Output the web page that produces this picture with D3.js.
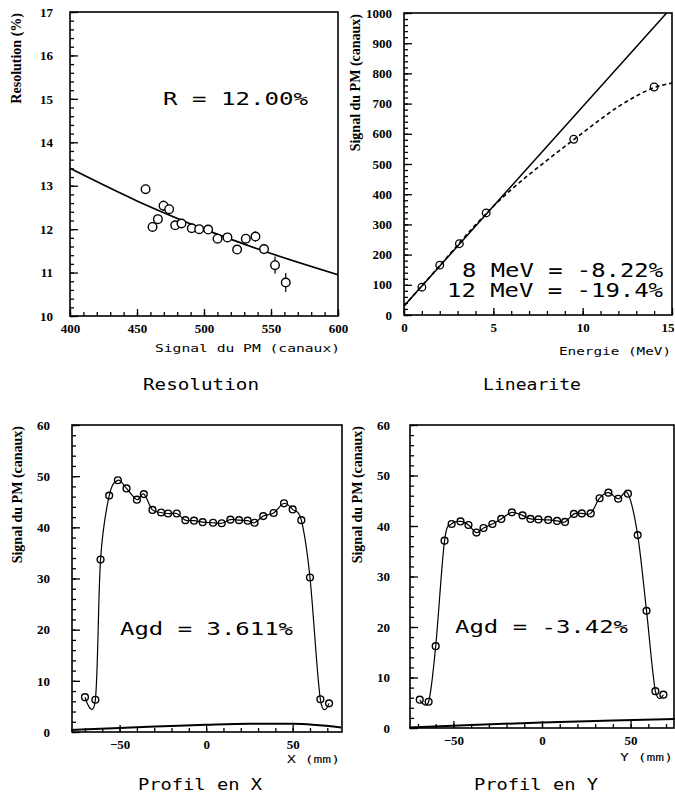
<!DOCTYPE html>
<html>
<head>
<meta charset="utf-8">
<script src="https://cdn.jsdelivr.net/npm/d3@7"></script>
<style>
  body { margin: 0; background: #fff; }
</style>
</head>
<body>
<svg id="chart" width="675" height="797"></svg>
<script>
// --- Resolution vs PM signal ---
const resSignal = [456.4, 461.6, 465.6, 469.8, 474.0, 478.5, 483.2, 490.9, 496.4, 503.1, 510.1, 517.5, 524.7, 531.2, 538.4, 544.8, 553.0, 561.0];
const resValue  = [12.92, 12.05, 12.23, 12.54, 12.46, 12.09, 12.13, 12.02, 12.00, 11.99, 11.78, 11.81, 11.53, 11.78, 11.83, 11.54, 11.17, 10.77];
const resError  = [0.10, 0.10, 0.10, 0.12, 0.12, 0.10, 0.10, 0.08, 0.08, 0.08, 0.08, 0.10, 0.08, 0.10, 0.12, 0.12, 0.20, 0.22];
const resFitX   = [400, 450, 500, 550, 600];
const resFitY   = [13.40, 12.65, 12.00, 11.44, 10.95];

// --- Linearity ---
const linEnergy = [1.0, 2.0, 3.1, 4.6, 9.5, 14.0];
const linSignal = [92, 165, 236, 338, 582, 755];
const linFitE   = [0, 14.7];
const linFitS   = [30, 1000];
const linSatE   = [0, 2, 4, 5, 6, 7, 8, 9, 10, 11, 12, 13, 14, 15];
const linSatS   = [30, 163, 298, 360, 415, 465, 512, 558, 603, 648, 690, 725, 753, 768];

// --- Profile in X ---
const profXpos = [-70, -64, -61, -56, -51, -46, -40, -36, -31, -26, -22, -17, -12, -7, -2, 4, 9, 14, 19, 24, 28, 33, 39, 45, 50, 55, 60, 66, 71];
const profXsig = [6.8, 6.3, 33.7, 46.2, 49.2, 47.6, 45.4, 46.5, 43.4, 42.9, 42.7, 42.7, 41.4, 41.3, 41.0, 40.9, 40.8, 41.5, 41.4, 41.3, 40.9, 42.2, 42.8, 44.7, 43.5, 41.4, 30.2, 6.4, 5.6];
const baseXpos = [-78, -50, -25, 0, 25, 50, 78];
const baseXsig = [0.4, 0.8, 1.1, 1.4, 1.6, 1.6, 0.9];

// --- Profile in Y ---
const profYpos = [-69, -64, -60, -55, -51, -46, -41.5, -37, -33, -28, -23, -17, -11, -6.5, -2, 3.5, 8.5, 13, 18, 22.5, 27.5, 32.5, 37.5, 43, 48.5, 54, 59, 64, 68.5];
const profYsig = [5.6, 5.2, 16.2, 37.1, 40.4, 40.9, 40.2, 38.7, 39.6, 40.4, 41.4, 42.7, 42.1, 41.4, 41.3, 41.2, 41.0, 40.8, 42.4, 42.5, 42.5, 45.5, 46.6, 45.4, 46.4, 38.2, 23.2, 7.3, 6.6];
const baseYpos = [-75, -40, 0, 40, 75];
const baseYsig = [0.1, 0.6, 1.1, 1.5, 1.8];

const svg = d3.select('#chart');
const serif = '"Liberation Serif", "Times New Roman", serif';
const mono = '"DejaVu Sans Mono", monospace';

// draws frame, inward ticks and labels, returns scales
function panel(o) {
  const x = d3.scaleLinear().domain(o.xDom).range([o.left, o.right]);
  const y = d3.scaleLinear().domain(o.yDom).range([o.bottom, o.top]);
  const g = svg.append('g');

  const styleAxis = sel => {
    sel.select('.domain').remove();
    sel.selectAll('line').attr('stroke', '#000').attr('stroke-width', 1.3);
    sel.selectAll('text').attr('font-family', serif).attr('font-weight', 'bold')
      .attr('font-size', 13).attr('fill', '#000');
  };

  g.append('g').attr('transform', `translate(${o.left},0)`)
    .call(d3.axisLeft(y).tickValues(o.yMinor).tickSize(-4).tickFormat(''))
    .call(styleAxis);
  g.append('g').attr('transform', `translate(${o.left},0)`)
    .call(d3.axisLeft(y).tickValues(o.yMajor).tickSize(-8).tickPadding(o.yPad).tickFormat(d3.format('d')))
    .call(styleAxis);
  g.append('g').attr('transform', `translate(0,${o.bottom})`)
    .call(d3.axisBottom(x).tickValues(o.xMinor).tickSize(-4).tickFormat(''))
    .call(styleAxis);
  g.append('g').attr('class', 'xmajor').attr('transform', `translate(0,${o.bottom})`)
    .call(d3.axisBottom(x).tickValues(o.xMajor).tickSize(-7).tickPadding(8).tickFormat(d3.format('d')))
    .call(styleAxis);

  g.append('rect')
    .attr('x', o.left).attr('y', o.top)
    .attr('width', o.right - o.left).attr('height', o.bottom - o.top)
    .attr('fill', 'none').attr('stroke', '#000').attr('stroke-width', 1.6);

  // rotated y title, top aligned
  g.append('text')
    .attr('transform', `translate(${o.yTitleX},${o.top + 1}) rotate(-90)`)
    .attr('text-anchor', 'end').attr('dy', '0.35em')
    .attr('font-family', serif).attr('font-weight', 'bold').attr('font-size', 14)
    .text(o.yTitle);

  // x title, right aligned
  g.append('text')
    .attr('x', o.xTitleX1).attr('y', o.xTitleY)
    .attr('font-family', mono).attr('font-size', 11)
    .attr('textLength', o.xTitleLen).attr('lengthAdjust', 'spacingAndGlyphs')
    .text(o.xTitle);

  // caption under panel
  g.append('text')
    .attr('x', o.capX).attr('y', o.capY)
    .attr('font-family', mono).attr('font-size', 15)
    .attr('textLength', o.capLen).attr('lengthAdjust', 'spacingAndGlyphs')
    .text(o.caption);

  return { g, x, y };
}

function note(g, x, y, str, len, size) {
  g.append('text').attr('x', x).attr('y', y)
    .attr('font-family', mono).attr('font-size', size)
    .attr('textLength', len).attr('lengthAdjust', 'spacingAndGlyphs')
    .text(str);
}

// ---------- Panel 1: Resolution ----------
{
  const p = panel({
    left: 70, right: 338, top: 12, bottom: 316,
    xDom: [400, 600], yDom: [10, 17],
    xMajor: [400, 450, 500, 550, 600], xMinor: d3.range(400, 601, 10),
    yMajor: d3.range(10, 18), yMinor: d3.range(10, 17.01, 0.2),
    yPad: 17, yTitle: 'Resolution (%)', yTitleX: 16,
    xTitle: 'Signal du PM (canaux)', xTitleX1: 155, xTitleY: 352, xTitleLen: 185,
    caption: 'Resolution', capX: 143, capY: 390, capLen: 116
  });
  const fit = resFitX.map((v, i) => [v, resFitY[i]]);
  p.g.append('path').datum(fit)
    .attr('d', d3.line().x(d => p.x(d[0])).y(d => p.y(d[1])).curve(d3.curveMonotoneX))
    .attr('fill', 'none').attr('stroke', '#000').attr('stroke-width', 1.7);
  const pts = resSignal.map((v, i) => ({ x: v, y: resValue[i], e: resError[i] }));
  p.g.selectAll('line.err').data(pts).join('line')
    .attr('x1', d => p.x(d.x)).attr('x2', d => p.x(d.x))
    .attr('y1', d => p.y(d.y - d.e)).attr('y2', d => p.y(d.y + d.e))
    .attr('stroke', '#000').attr('stroke-width', 1.2);
  p.g.selectAll('circle').data(pts).join('circle')
    .attr('cx', d => p.x(d.x)).attr('cy', d => p.y(d.y)).attr('r', 4.3)
    .attr('fill', '#fff').attr('stroke', '#000').attr('stroke-width', 1.4);
  note(p.g, 163, 105, 'R = 12.00%', 145, 18);
}

// ---------- Panel 2: Linearite ----------
{
  const p = panel({
    left: 404, right: 672, top: 13, bottom: 315,
    xDom: [0, 15], yDom: [0, 1000],
    xMajor: [0, 5, 10, 15], xMinor: d3.range(0, 16, 1),
    yMajor: d3.range(0, 1001, 100), yMinor: d3.range(0, 1001, 20),
    yPad: 12, yTitle: 'Signal du PM (canaux)', yTitleX: 355,
    xTitle: 'Energie (MeV)', xTitleX1: 559, xTitleY: 355, xTitleLen: 112,
    caption: 'Linearite', capX: 483, capY: 390, capLen: 98
  });
  // keep the last tick label inside the page
  p.g.selectAll('.xmajor .tick text').filter(d => d === 15)
    .attr('text-anchor', 'end').attr('dx', 2);
  const line = d3.line().x(d => p.x(d[0])).y(d => p.y(d[1]));
  p.g.append('path').datum(linFitE.map((v, i) => [v, linFitS[i]]))
    .attr('d', line).attr('fill', 'none').attr('stroke', '#000').attr('stroke-width', 1.5);
  p.g.append('path').datum(linSatE.map((v, i) => [v, linSatS[i]]))
    .attr('d', line.curve(d3.curveMonotoneX))
    .attr('fill', 'none').attr('stroke', '#000').attr('stroke-width', 1.6)
    .attr('stroke-dasharray', '4,3');
  p.g.selectAll('circle').data(linEnergy.map((v, i) => [v, linSignal[i]])).join('circle')
    .attr('cx', d => p.x(d[0])).attr('cy', d => p.y(d[1])).attr('r', 3.8)
    .attr('fill', 'none').attr('stroke', '#000').attr('stroke-width', 1.3);
  note(p.g, 462, 277, '8 MeV = -8.22%', 201, 19);
  note(p.g, 447, 297, '12 MeV = -19.4%', 216, 19);
}

// ---------- Panels 3 and 4: profiles ----------
function profile(o, pos, sig, bpos, bsig, label, lx, ly) {
  const p = panel(o);
  const line = d3.line().x(d => p.x(d[0])).y(d => p.y(d[1]));
  p.g.append('path').datum(bpos.map((v, i) => [v, bsig[i]]))
    .attr('d', line.curve(d3.curveMonotoneX))
    .attr('fill', 'none').attr('stroke', '#000').attr('stroke-width', 2);
  const pts = pos.map((v, i) => [v, sig[i]]);
  p.g.append('path').datum(pts)
    .attr('d', line.curve(d3.curveCardinal.tension(0)))
    .attr('fill', 'none').attr('stroke', '#000').attr('stroke-width', 1.2);
  p.g.selectAll('circle').data(pts).join('circle')
    .attr('cx', d => p.x(d[0])).attr('cy', d => p.y(d[1])).attr('r', 3.4)
    .attr('fill', 'none').attr('stroke', '#000').attr('stroke-width', 1.4);
  note(p.g, lx, ly, label, 173, 18);
}

profile({
  left: 72, right: 342, top: 425, bottom: 732,
  xDom: [-77.5, 78.5], yDom: [0, 60],
  xMajor: [-50, 0, 50], xMinor: d3.range(-70, 71, 10),
  yMajor: d3.range(0, 61, 10), yMinor: d3.range(0, 61, 2),
  yPad: 22, yTitle: 'Signal du PM (canaux)', yTitleX: 17,
  xTitle: 'X (mm)', xTitleX1: 287, xTitleY: 763, xTitleLen: 53,
  caption: 'Profil en X', capX: 138, capY: 790, capLen: 124
}, profXpos, profXsig, baseXpos, baseXsig, 'Agd = 3.611%', 120, 635);

profile({
  left: 410, right: 674, top: 425, bottom: 728,
  xDom: [-74.5, 74.5], yDom: [0, 60],
  xMajor: [-50, 0, 50], xMinor: d3.range(-70, 71, 10),
  yMajor: d3.range(0, 61, 10), yMinor: d3.range(0, 61, 2),
  yPad: 20, yTitle: 'Signal du PM (canaux)', yTitleX: 357,
  xTitle: 'Y (mm)', xTitleX1: 620, xTitleY: 761, xTitleLen: 53,
  caption: 'Profil en Y', capX: 474, capY: 790, capLen: 124
}, profYpos, profYsig, baseYpos, baseYsig, 'Agd = -3.42%', 455, 633);
</script>
</body>
</html>
